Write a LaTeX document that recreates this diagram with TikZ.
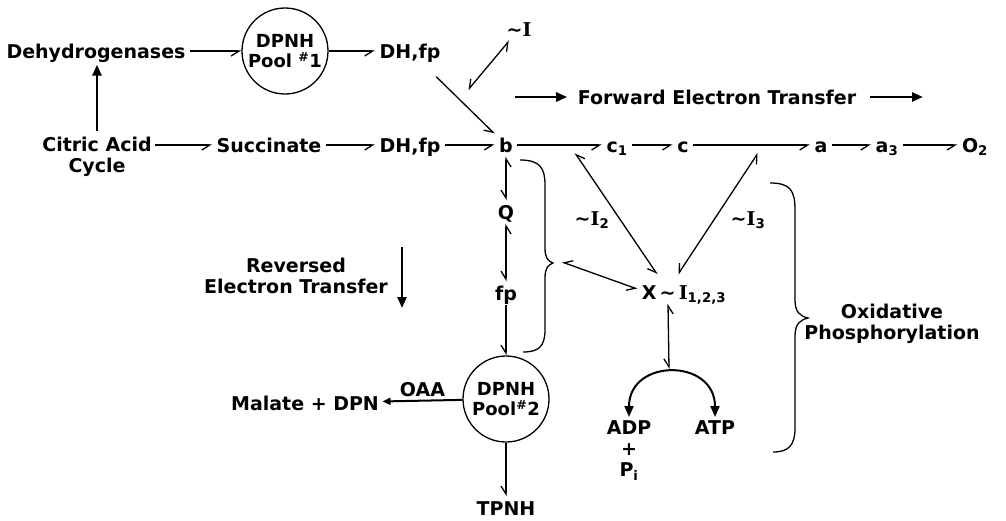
\documentclass[tikz,border=0pt]{standalone}
\usepackage{fontspec}
\setmainfont{DejaVu Sans}
\newfontfamily\serifI{DejaVu Serif}
\usetikzlibrary{arrows.meta}
\newcommand\tld{\char"223C}
\newcommand\hiI{\tld{\serifI\bfseries I}}

\begin{document}
\begin{tikzpicture}[
  x=1pt, y=-1pt,
  font=\bfseries\fontsize{19}{21}\selectfont,
  line width=1.3pt,
  hp/.tip={Straight Barb[harpoon,swap,length=8pt,width=10pt]},
  fat/.tip={Triangle[length=11pt,width=9pt]},
  small/.tip={Triangle[length=8pt,width=7pt]},
  itm/.style={inner sep=4pt, text height=14pt, text depth=0pt},
  pool/.style={circle, draw, line width=1.3pt, minimum size=86pt,
    inner sep=0pt, align=center, font=\bfseries\fontsize{18}{20}\selectfont},
  lbl/.style={inner sep=3pt, align=center},
  flow/.style={-hp},
  dbl/.style={hp-hp},
  big/.style={-fat, line width=2.6pt},
  curv/.style={fat-fat, line width=2pt}
]
\useasboundingbox (0,0) rectangle (1006,520);

% top row
\node[itm] (deh) at (96,51) {Dehydrogenases};
\node[pool] (pool1) at (285,51) {DPNH\\Pool \textsuperscript{\#}1};
\node[itm] (dh1) at (410,51) {DH,fp};
\node[itm] (ti) at (519,29) {\hiI};
\node[lbl] (fwd) at (717,97) {Forward Electron Transfer};

% main chain
\node[lbl] (cit) at (97,157) {Citric Acid\\Cycle};
\node[itm] (succ) at (269,145) {Succinate};
\node[itm] (dh2) at (410,145) {DH,fp};
\node[itm] (b) at (506,145) {b};
\node[itm] (c1) at (617,145) {c\textsubscript{1}};
\node[itm] (cc) at (683,145) {c};
\node[itm] (a) at (821,145) {a};
\node[itm] (a3) at (887,145) {a\textsubscript{3}};
\node[itm] (o2) at (975,145) {O\textsubscript{2}};

% reversed branch
\node[itm] (q) at (506,212) {Q};
\node[itm] (fp) at (506,293) {fp};
\node[pool] (pool2) at (506,399) {DPNH\\Pool\textsuperscript{\#}2};
\node[lbl] (mal) at (305,403) {Malate + DPN};
\node[itm] (tpnh) at (506,508) {TPNH};
\node[lbl] (rev) at (296,276) {Reversed\\Electron Transfer};

% phosphorylation
\node[itm] (ti2) at (592,218) {\hiI\textsubscript{2}};
\node[itm] (ti3) at (748,218) {\hiI\textsubscript{3}};
\node[itm] (x) at (684,292) {X\,\tld\,{\serifI I}\textsubscript{1,2,3}};
\node[lbl, anchor=north] (adp) at (629,417) {ADP\\+\\P\textsubscript{i}};
\node[lbl, anchor=north] (atp) at (715,417) {ATP};
\node[lbl] (oxp) at (892,324) {Oxidative\\Phosphorylation};

\coordinate (fwdl) at (515,97);
\coordinate (fwdr) at (923,97);
\coordinate (i1) at (468,90);
\coordinate (i2) at (575,153);
\coordinate (i3) at (758,153);
\coordinate (cusp) at (562,262);
\coordinate (arctop) at (669,369);
\coordinate (rv1) at (402,247);
\coordinate (rv2) at (402,308);

\draw[flow] (deh) -- (pool1);
\draw[flow] (pool1) -- (dh1);
\draw[big, shorten <=3pt, shorten >=2pt] (cit.north) -- (cit.north |- deh.south);
\draw[flow] (cit.east |- succ) -- (succ);
\draw[flow] (succ) -- (dh2);
\draw[flow] (dh2) -- (b);
\draw[flow, shorten <=20pt] (dh1) -- (b);
\draw[dbl] (i1) -- (ti);
\draw[big, shorten >=7pt] (fwdl) -- (fwd);
\draw[big, shorten <=10pt] (fwd) -- (fwdr);

\draw[flow] (b) -- (c1);
\draw[flow] (c1) -- (cc);
\draw[flow] (cc) -- (a);
\draw[flow] (a) -- (a3);
\draw[flow] (a3) -- (o2);

\draw[dbl] (b) -- (q);
\draw[dbl] (q) -- (fp);
\draw[flow] (fp) -- (pool2);
\draw[-small, line width=2pt] (pool2) -- node[lbl, above] {OAA} (mal);
\draw[flow] (pool2) -- (tpnh);
\draw[big] (rv1) -- (rv2);

\draw[dbl] (i2) -- ([xshift=20pt,yshift=6pt]x.north west);
\draw[dbl] (i3) -- ([xshift=-6pt,yshift=6pt]x.north);
\draw[dbl] ([yshift=3pt]x.west) -- (cusp);
\draw[dbl] ([xshift=-16pt]x.south) -- (arctop);
\draw[curv] (adp.north) .. controls (629,358) and (715,358) .. (atp.north);

% braces
\draw (520,160) .. controls (540,160) and (545,168) .. (545,185) -- (545,248)
  .. controls (545,258) and (548,261) .. (553,263)
  .. controls (548,265) and (545,268) .. (545,278) -- (545,330)
  .. controls (545,347) and (538,352) .. (523,352);
\draw (770,183) .. controls (790,183) and (795,190) .. (795,210) -- (795,300)
  .. controls (795,312) and (800,316) .. (808,318)
  .. controls (800,320) and (795,324) .. (795,336) -- (795,428)
  .. controls (795,446) and (788,452) .. (773,452);

\end{tikzpicture}
\end{document}
